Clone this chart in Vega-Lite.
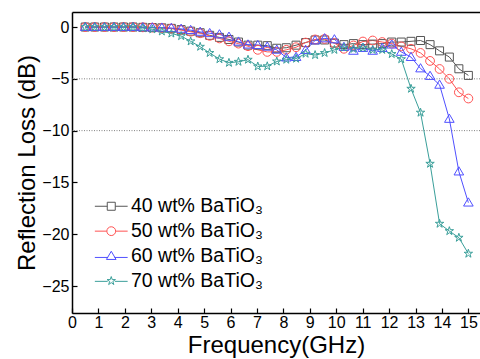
{
  "$schema": "https://vega.github.io/schema/vega-lite/v6.json",
  "width": 408,
  "height": 301,
  "autosize": {"type": "none"},
  "padding": {"left": 72, "top": 12, "right": 0, "bottom": 46},
  "background": "white",
  "config": {
    "view": {"stroke": null},
    "font": "Liberation Sans",
    "axis": {
      "labelColor": "black", "titleColor": "black", "domainColor": "black", "tickColor": "black",
      "labelFontSize": 16, "titleFontSize": 24, "titleFontWeight": "normal",
      "domainWidth": 1.5, "tickWidth": 1.2, "grid": false
    },
    "legend": {
      "labelFontSize": 19.5, "labelColor": "black", "rowPadding": 3.9, "symbolStrokeWidth": 1, "symbolSize": 64,
      "labelOffset": 10, "symbolOffset": 0, "padding": 0, "symbolOpacity": 1
    }
  },
  "datasets": {
    "rl": [
      {"f":0.5,"rl":0,"s":"40 wt% BaTiO₃"},{"f":0.86,"rl":0,"s":"40 wt% BaTiO₃"},{"f":1.23,"rl":0,"s":"40 wt% BaTiO₃"},{"f":1.59,"rl":0,"s":"40 wt% BaTiO₃"},{"f":1.95,"rl":0,"s":"40 wt% BaTiO₃"},{"f":2.31,"rl":0,"s":"40 wt% BaTiO₃"},{"f":2.68,"rl":-0.03,"s":"40 wt% BaTiO₃"},{"f":3.04,"rl":-0.05,"s":"40 wt% BaTiO₃"},{"f":3.4,"rl":-0.08,"s":"40 wt% BaTiO₃"},{"f":3.76,"rl":-0.13,"s":"40 wt% BaTiO₃"},{"f":4.13,"rl":-0.25,"s":"40 wt% BaTiO₃"},{"f":4.49,"rl":-0.4,"s":"40 wt% BaTiO₃"},{"f":4.85,"rl":-0.55,"s":"40 wt% BaTiO₃"},{"f":5.21,"rl":-0.8,"s":"40 wt% BaTiO₃"},{"f":5.58,"rl":-1.0,"s":"40 wt% BaTiO₃"},{"f":5.94,"rl":-1.2,"s":"40 wt% BaTiO₃"},{"f":6.3,"rl":-1.45,"s":"40 wt% BaTiO₃"},{"f":6.66,"rl":-1.75,"s":"40 wt% BaTiO₃"},{"f":7.03,"rl":-1.75,"s":"40 wt% BaTiO₃"},{"f":7.39,"rl":-1.8,"s":"40 wt% BaTiO₃"},{"f":7.75,"rl":-2.05,"s":"40 wt% BaTiO₃"},{"f":8.11,"rl":-2.0,"s":"40 wt% BaTiO₃"},{"f":8.48,"rl":-1.75,"s":"40 wt% BaTiO₃"},{"f":8.84,"rl":-1.5,"s":"40 wt% BaTiO₃"},{"f":9.2,"rl":-1.25,"s":"40 wt% BaTiO₃"},{"f":9.56,"rl":-1.25,"s":"40 wt% BaTiO₃"},{"f":9.93,"rl":-1.55,"s":"40 wt% BaTiO₃"},{"f":10.29,"rl":-1.7,"s":"40 wt% BaTiO₃"},{"f":10.65,"rl":-1.6,"s":"40 wt% BaTiO₃"},{"f":11.01,"rl":-1.7,"s":"40 wt% BaTiO₃"},{"f":11.38,"rl":-1.65,"s":"40 wt% BaTiO₃"},{"f":11.74,"rl":-1.6,"s":"40 wt% BaTiO₃"},{"f":12.1,"rl":-1.45,"s":"40 wt% BaTiO₃"},{"f":12.46,"rl":-1.45,"s":"40 wt% BaTiO₃"},{"f":12.83,"rl":-1.38,"s":"40 wt% BaTiO₃"},{"f":13.19,"rl":-1.3,"s":"40 wt% BaTiO₃"},{"f":13.55,"rl":-1.7,"s":"40 wt% BaTiO₃"},{"f":13.91,"rl":-2.3,"s":"40 wt% BaTiO₃"},{"f":14.28,"rl":-2.9,"s":"40 wt% BaTiO₃"},{"f":14.64,"rl":-4.03,"s":"40 wt% BaTiO₃"},{"f":15.0,"rl":-4.67,"s":"40 wt% BaTiO₃"},

      {"f":0.5,"rl":0,"s":"50 wt% BaTiO₃"},{"f":0.86,"rl":0,"s":"50 wt% BaTiO₃"},{"f":1.23,"rl":0,"s":"50 wt% BaTiO₃"},{"f":1.59,"rl":0,"s":"50 wt% BaTiO₃"},{"f":1.95,"rl":0,"s":"50 wt% BaTiO₃"},{"f":2.31,"rl":0,"s":"50 wt% BaTiO₃"},{"f":2.68,"rl":-0.03,"s":"50 wt% BaTiO₃"},{"f":3.04,"rl":-0.06,"s":"50 wt% BaTiO₃"},{"f":3.4,"rl":-0.1,"s":"50 wt% BaTiO₃"},{"f":3.76,"rl":-0.15,"s":"50 wt% BaTiO₃"},{"f":4.13,"rl":-0.3,"s":"50 wt% BaTiO₃"},{"f":4.49,"rl":-0.45,"s":"50 wt% BaTiO₃"},{"f":4.85,"rl":-0.6,"s":"50 wt% BaTiO₃"},{"f":5.21,"rl":-0.85,"s":"50 wt% BaTiO₃"},{"f":5.58,"rl":-1.1,"s":"50 wt% BaTiO₃"},{"f":5.94,"rl":-1.38,"s":"50 wt% BaTiO₃"},{"f":6.3,"rl":-1.6,"s":"50 wt% BaTiO₃"},{"f":6.66,"rl":-1.85,"s":"50 wt% BaTiO₃"},{"f":7.03,"rl":-2.2,"s":"50 wt% BaTiO₃"},{"f":7.39,"rl":-2.4,"s":"50 wt% BaTiO₃"},{"f":7.75,"rl":-2.4,"s":"50 wt% BaTiO₃"},{"f":8.11,"rl":-2.2,"s":"50 wt% BaTiO₃"},{"f":8.48,"rl":-1.95,"s":"50 wt% BaTiO₃"},{"f":8.84,"rl":-1.5,"s":"50 wt% BaTiO₃"},{"f":9.2,"rl":-1.2,"s":"50 wt% BaTiO₃"},{"f":9.56,"rl":-1.15,"s":"50 wt% BaTiO₃"},{"f":9.93,"rl":-1.55,"s":"50 wt% BaTiO₃"},{"f":10.29,"rl":-2.1,"s":"50 wt% BaTiO₃"},{"f":10.65,"rl":-1.78,"s":"50 wt% BaTiO₃"},{"f":11.01,"rl":-1.4,"s":"50 wt% BaTiO₃"},{"f":11.38,"rl":-1.3,"s":"50 wt% BaTiO₃"},{"f":11.74,"rl":-1.45,"s":"50 wt% BaTiO₃"},{"f":12.1,"rl":-1.6,"s":"50 wt% BaTiO₃"},{"f":12.46,"rl":-1.87,"s":"50 wt% BaTiO₃"},{"f":12.83,"rl":-2.1,"s":"50 wt% BaTiO₃"},{"f":13.19,"rl":-2.5,"s":"50 wt% BaTiO₃"},{"f":13.55,"rl":-3.27,"s":"50 wt% BaTiO₃"},{"f":13.91,"rl":-4.05,"s":"50 wt% BaTiO₃"},{"f":14.28,"rl":-5.0,"s":"50 wt% BaTiO₃"},{"f":14.64,"rl":-6.3,"s":"50 wt% BaTiO₃"},{"f":15.0,"rl":-6.9,"s":"50 wt% BaTiO₃"},

      {"f":0.5,"rl":0,"s":"60 wt% BaTiO₃"},{"f":0.86,"rl":0,"s":"60 wt% BaTiO₃"},{"f":1.23,"rl":0,"s":"60 wt% BaTiO₃"},{"f":1.59,"rl":0,"s":"60 wt% BaTiO₃"},{"f":1.95,"rl":0,"s":"60 wt% BaTiO₃"},{"f":2.31,"rl":0,"s":"60 wt% BaTiO₃"},{"f":2.68,"rl":-0.03,"s":"60 wt% BaTiO₃"},{"f":3.04,"rl":-0.05,"s":"60 wt% BaTiO₃"},{"f":3.4,"rl":-0.07,"s":"60 wt% BaTiO₃"},{"f":3.76,"rl":-0.1,"s":"60 wt% BaTiO₃"},{"f":4.13,"rl":-0.18,"s":"60 wt% BaTiO₃"},{"f":4.49,"rl":-0.3,"s":"60 wt% BaTiO₃"},{"f":4.85,"rl":-0.47,"s":"60 wt% BaTiO₃"},{"f":5.21,"rl":-0.6,"s":"60 wt% BaTiO₃"},{"f":5.58,"rl":-0.72,"s":"60 wt% BaTiO₃"},{"f":5.94,"rl":-0.95,"s":"60 wt% BaTiO₃"},{"f":6.3,"rl":-1.42,"s":"60 wt% BaTiO₃"},{"f":6.66,"rl":-1.7,"s":"60 wt% BaTiO₃"},{"f":7.03,"rl":-1.75,"s":"60 wt% BaTiO₃"},{"f":7.39,"rl":-1.9,"s":"60 wt% BaTiO₃"},{"f":7.75,"rl":-2.2,"s":"60 wt% BaTiO₃"},{"f":8.11,"rl":-2.95,"s":"60 wt% BaTiO₃"},{"f":8.48,"rl":-2.9,"s":"60 wt% BaTiO₃"},{"f":8.84,"rl":-2.22,"s":"60 wt% BaTiO₃"},{"f":9.2,"rl":-1.3,"s":"60 wt% BaTiO₃"},{"f":9.56,"rl":-1.1,"s":"60 wt% BaTiO₃"},{"f":9.93,"rl":-1.2,"s":"60 wt% BaTiO₃"},{"f":10.29,"rl":-1.93,"s":"60 wt% BaTiO₃"},{"f":10.65,"rl":-2.3,"s":"60 wt% BaTiO₃"},{"f":11.01,"rl":-2.03,"s":"60 wt% BaTiO₃"},{"f":11.38,"rl":-2.3,"s":"60 wt% BaTiO₃"},{"f":11.74,"rl":-2.03,"s":"60 wt% BaTiO₃"},{"f":12.1,"rl":-1.7,"s":"60 wt% BaTiO₃"},{"f":12.46,"rl":-2.4,"s":"60 wt% BaTiO₃"},{"f":12.83,"rl":-2.9,"s":"60 wt% BaTiO₃"},{"f":13.19,"rl":-4.0,"s":"60 wt% BaTiO₃"},{"f":13.55,"rl":-4.73,"s":"60 wt% BaTiO₃"},{"f":13.91,"rl":-5.58,"s":"60 wt% BaTiO₃"},{"f":14.28,"rl":-8.87,"s":"60 wt% BaTiO₃"},{"f":14.64,"rl":-13.95,"s":"60 wt% BaTiO₃"},{"f":15.0,"rl":-16.95,"s":"60 wt% BaTiO₃"},

      {"f":0.5,"rl":0,"s":"70 wt% BaTiO₃"},{"f":0.86,"rl":0,"s":"70 wt% BaTiO₃"},{"f":1.23,"rl":0,"s":"70 wt% BaTiO₃"},{"f":1.59,"rl":0,"s":"70 wt% BaTiO₃"},{"f":1.95,"rl":0,"s":"70 wt% BaTiO₃"},{"f":2.31,"rl":0,"s":"70 wt% BaTiO₃"},{"f":2.68,"rl":-0.1,"s":"70 wt% BaTiO₃"},{"f":3.04,"rl":-0.22,"s":"70 wt% BaTiO₃"},{"f":3.4,"rl":-0.42,"s":"70 wt% BaTiO₃"},{"f":3.76,"rl":-0.62,"s":"70 wt% BaTiO₃"},{"f":4.13,"rl":-0.87,"s":"70 wt% BaTiO₃"},{"f":4.49,"rl":-1.38,"s":"70 wt% BaTiO₃"},{"f":4.85,"rl":-1.9,"s":"70 wt% BaTiO₃"},{"f":5.21,"rl":-2.5,"s":"70 wt% BaTiO₃"},{"f":5.58,"rl":-3.1,"s":"70 wt% BaTiO₃"},{"f":5.94,"rl":-3.45,"s":"70 wt% BaTiO₃"},{"f":6.3,"rl":-3.35,"s":"70 wt% BaTiO₃"},{"f":6.66,"rl":-3.15,"s":"70 wt% BaTiO₃"},{"f":7.03,"rl":-3.8,"s":"70 wt% BaTiO₃"},{"f":7.39,"rl":-3.78,"s":"70 wt% BaTiO₃"},{"f":7.75,"rl":-3.32,"s":"70 wt% BaTiO₃"},{"f":8.11,"rl":-3.15,"s":"70 wt% BaTiO₃"},{"f":8.48,"rl":-3.05,"s":"70 wt% BaTiO₃"},{"f":8.84,"rl":-2.57,"s":"70 wt% BaTiO₃"},{"f":9.2,"rl":-2.7,"s":"70 wt% BaTiO₃"},{"f":9.56,"rl":-2.5,"s":"70 wt% BaTiO₃"},{"f":9.93,"rl":-2.2,"s":"70 wt% BaTiO₃"},{"f":10.29,"rl":-1.98,"s":"70 wt% BaTiO₃"},{"f":10.65,"rl":-2.1,"s":"70 wt% BaTiO₃"},{"f":11.01,"rl":-2.0,"s":"70 wt% BaTiO₃"},{"f":11.38,"rl":-2.2,"s":"70 wt% BaTiO₃"},{"f":11.74,"rl":-2.2,"s":"70 wt% BaTiO₃"},{"f":12.1,"rl":-2.6,"s":"70 wt% BaTiO₃"},{"f":12.46,"rl":-3.1,"s":"70 wt% BaTiO₃"},{"f":12.83,"rl":-5.95,"s":"70 wt% BaTiO₃"},{"f":13.19,"rl":-8.26,"s":"70 wt% BaTiO₃"},{"f":13.55,"rl":-13.19,"s":"70 wt% BaTiO₃"},{"f":13.91,"rl":-18.98,"s":"70 wt% BaTiO₃"},{"f":14.28,"rl":-19.69,"s":"70 wt% BaTiO₃"},{"f":14.64,"rl":-20.33,"s":"70 wt% BaTiO₃"},{"f":15.0,"rl":-21.87,"s":"70 wt% BaTiO₃"}
    ]
  },
  "resolve": {"axis": {"x": "independent"}},
  "layer": [
    {
      "data": {"values": [{"g": -5}, {"g": -10}]},
      "mark": {"type": "rule", "stroke": "#808080", "strokeWidth": 1, "strokeDash": [1, 1.5]},
      "encoding": {
        "y": {"field": "g", "type": "quantitative", "scale": {"domain": [-27.6, 1.45], "nice": false, "zero": false},
              "axis": {"title": "Reflection Loss (dB)", "values": [-25,-22.5,-20,-17.5,-15,-12.5,-10,-7.5,-5,-2.5,0],
                       "labelExpr": "datum.value % 5 == 0 ? datum.label : ''",
                       "tickSize": -5, "labelPadding": 8, "titlePadding": 2, "labelFlush": false, "labelOverlap": false}}
      }
    },
    {
      "data": {"name": "rl"},
      "mark": {"type": "line", "strokeWidth": 1, "clip": true},
      "encoding": {
        "x": {"field": "f", "type": "quantitative", "scale": {"domain": [0, 15.44], "nice": false, "zero": false},
              "axis": {"orient": "top", "labels": false, "ticks": false, "title": null, "domain": true}},
        "y": {"field": "rl", "type": "quantitative"},
        "color": {"field": "s", "type": "nominal",
                  "scale": {"domain": ["40 wt% BaTiO₃", "50 wt% BaTiO₃", "60 wt% BaTiO₃", "70 wt% BaTiO₃"],
                            "range": ["#555555", "#ff5252", "#5050ff", "#3a9f9a"]}}
      }
    },
    {
      "data": {"name": "rl"},
      "transform": [{"filter": "datum.s == '40 wt% BaTiO₃'"}],
      "mark": {"type": "point", "filled": false, "strokeWidth": 1, "size": 64, "opacity": 1, "clip": true, "shape": "M-1,-1H1V1H-1Z"},
      "encoding": {
        "x": {"field": "f", "type": "quantitative",
              "axis": {"orient": "bottom", "title": "Frequency(GHz)", "values": [0,1,2,3,4,5,6,7,8,9,10,11,12,13,14,15],
                       "tickSize": -5, "labelPadding": 6, "titlePadding": 3, "labelFlush": false, "labelOverlap": false}},
        "y": {"field": "rl", "type": "quantitative"},
        "color": {"field": "s", "type": "nominal"}
      }
    },
    {
      "data": {"name": "rl"},
      "transform": [{"filter": "datum.s == '50 wt% BaTiO₃'"}],
      "mark": {"type": "point", "filled": false, "strokeWidth": 1, "size": 64, "opacity": 1, "clip": true, "shape": "M1.1,0A1.1,1.1,0,1,1,-1.1,0A1.1,1.1,0,1,1,1.1,0Z"},
      "encoding": {
        "x": {"field": "f", "type": "quantitative", "axis": null},
        "y": {"field": "rl", "type": "quantitative"},
        "color": {"field": "s", "type": "nominal"}
      }
    },
    {
      "data": {"name": "rl"},
      "transform": [{"filter": "datum.s == '60 wt% BaTiO₃'"}],
      "mark": {"type": "point", "filled": false, "strokeWidth": 1, "size": 64, "opacity": 1, "clip": true, "shape": "M0,-1.2L1.2,0.85H-1.2Z"},
      "encoding": {
        "x": {"field": "f", "type": "quantitative", "axis": null},
        "y": {"field": "rl", "type": "quantitative"},
        "color": {"field": "s", "type": "nominal"}
      }
    },
    {
      "data": {"name": "rl"},
      "transform": [{"filter": "datum.s == '70 wt% BaTiO₃'"}],
      "mark": {"type": "point", "filled": false, "strokeWidth": 1, "size": 64, "opacity": 1, "clip": true, "shape": "M0,-1.1L0.25,-0.34L1.05,-0.34L0.4,0.13L0.65,0.9L0,0.42L-0.65,0.9L-0.4,0.13L-1.05,-0.34L-0.25,-0.34Z"},
      "encoding": {
        "x": {"field": "f", "type": "quantitative", "axis": null},
        "y": {"field": "rl", "type": "quantitative"},
        "color": {"field": "s", "type": "nominal"}
      }
    },
    {
      "data": {"name": "rl"},
      "mark": {"type": "point", "filled": false, "strokeWidth": 1, "size": 64, "opacity": 0, "clip": true},
      "encoding": {
        "x": {"field": "f", "type": "quantitative", "axis": null},
        "y": {"field": "rl", "type": "quantitative"},
        "color": {"field": "s", "type": "nominal",
                  "legend": {"title": null, "orient": "none", "legendX": 29.5, "legendY": 184.5, "symbolOpacity": 1}},
        "shape": {"field": "s", "type": "nominal",
                  "legend": {"title": null, "orient": "none", "legendX": 29.5, "legendY": 184.5, "symbolOpacity": 1},
                  "scale": {"domain": ["40 wt% BaTiO₃", "50 wt% BaTiO₃", "60 wt% BaTiO₃", "70 wt% BaTiO₃"],
                            "range": ["M-4.1,0H-1M1,0H4.1M-1,-1H1V1H-1Z",
                                      "M-4.1,0H-1.1M1.1,0H4.1M1.1,0A1.1,1.1,0,1,1,-1.1,0A1.1,1.1,0,1,1,1.1,0Z",
                                      "M-4.1,0.35H-0.8M0.8,0.35H4.1M0,-1.2L1.2,0.85H-1.2Z",
                                      "M-4.1,0.1H-0.9M0.9,0.1H4.1M0,-1.1L0.25,-0.34L1.05,-0.34L0.4,0.13L0.65,0.9L0,0.42L-0.65,0.9L-0.4,0.13L-1.05,-0.34L-0.25,-0.34Z"]}}
      }
    }
  ]
}
